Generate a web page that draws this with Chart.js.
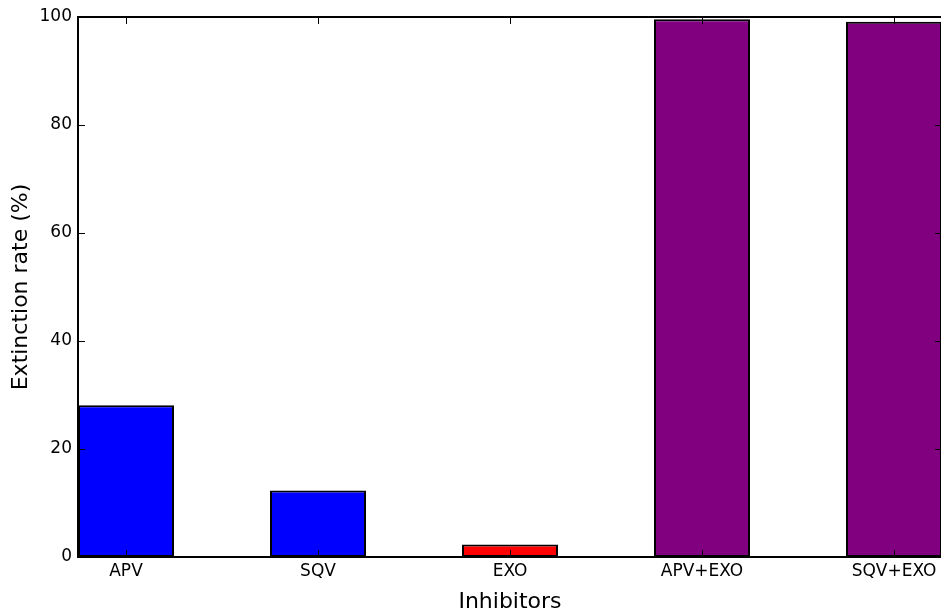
<!DOCTYPE html>
<html>
<head>
<meta charset="utf-8">
<script src="https://cdn.jsdelivr.net/npm/chart.js@4"></script>
<style>
  html, body { margin: 0; padding: 0; background: #fff; overflow: hidden; }
  #wrap { width: 941px; height: 609px; overflow: hidden; }
</style>
</head>
<body>
<div id="wrap"><canvas id="myChart" width="944" height="609"></canvas></div>
<script>
const inhibitors = ['APV', 'SQV', 'EXO', 'APV+EXO', 'SQV+EXO'];
const extinctionRate = [28.1, 12.3, 2.3, 99.6, 99.1];
const barColors = ['#0000ff', '#0000ff', '#ff0000', '#800080', '#800080'];
const yTicks = [0, 20, 40, 60, 80, 100];

// bars sit on [i, i+0.5], labels at the bar centres
const tickPos = inhibitors.map((_, i) => i + 0.25);

// frame plus inward ticks on every side
const frame = {
  id: 'frame',
  afterDatasetsDraw(chart) {
    const {ctx, chartArea: {top, bottom, left, right}, scales: {x, y}} = chart;
    ctx.save();
    ctx.strokeStyle = '#000';
    ctx.lineWidth = 1;
    tickPos.forEach(v => {
      const px = Math.round(x.getPixelForValue(v)) + 0.5;
      ctx.beginPath();
      ctx.moveTo(px, bottom); ctx.lineTo(px, bottom - 7);
      ctx.moveTo(px, top); ctx.lineTo(px, top + 7);
      ctx.stroke();
    });
    yTicks.forEach(v => {
      const py = Math.round(y.getPixelForValue(v)) + 0.5;
      ctx.beginPath();
      ctx.moveTo(left, py); ctx.lineTo(left + 7, py);
      ctx.moveTo(right, py); ctx.lineTo(right - 7, py);
      ctx.stroke();
    });
    ctx.lineWidth = 2;
    ctx.strokeRect(left, top, right - left, bottom - top);
    ctx.restore();
  }
};

const data = {
  datasets: [{
    data: extinctionRate.map((v, i) => ({x: tickPos[i], y: v})),
    backgroundColor: barColors,
    borderColor: '#000',
    borderWidth: 2,
    borderSkipped: false,
    categoryPercentage: 1,
    barPercentage: 0.5
  }]
};

const config = {
  type: 'bar',
  data,
  options: {
    responsive: false,
    animation: false,
    layout: { padding: { top: 17, right: 2, left: 0, bottom: 0 } },
    plugins: { legend: { display: false }, tooltip: { enabled: false } },
    scales: {
      x: {
        type: 'linear',
        offset: false,
        min: 0,
        max: 4.5,
        grid: { display: false, drawTicks: false, offset: false },
        border: { display: false },
        afterBuildTicks: (scale) => { scale.ticks = tickPos.map(v => ({value: v})); },
        afterFit: (scale) => { scale.height = 52; },
        ticks: {
          autoSkip: false,
          maxRotation: 0,
          padding: 4,
          color: '#000',
          font: { family: 'DejaVu Sans', size: 17 },
          callback: (val, idx) => inhibitors[idx]
        },
        title: {
          display: true,
          text: 'Inhibitors',
          color: '#000',
          font: { family: 'DejaVu Sans', size: 22 },
          padding: { top: 0, bottom: -6 }
        }
      },
      y: {
        min: 0,
        max: 100,
        grid: { display: false, drawTicks: false },
        border: { display: false },
        afterBuildTicks: (scale) => { scale.ticks = yTicks.map(v => ({value: v})); },
        afterFit: (scale) => { scale.width = 78; },
        ticks: {
          padding: 6,
          color: '#000',
          font: { family: 'DejaVu Sans', size: 17 }
        },
        title: {
          display: true,
          text: 'Extinction rate (%)',
          color: '#000',
          font: { family: 'DejaVu Sans', size: 22 },
          padding: { top: 8, bottom: 0 }
        }
      }
    }
  },
  plugins: [frame]
};

const myChart = new Chart(document.getElementById('myChart'), config);
</script>
</body>
</html>
